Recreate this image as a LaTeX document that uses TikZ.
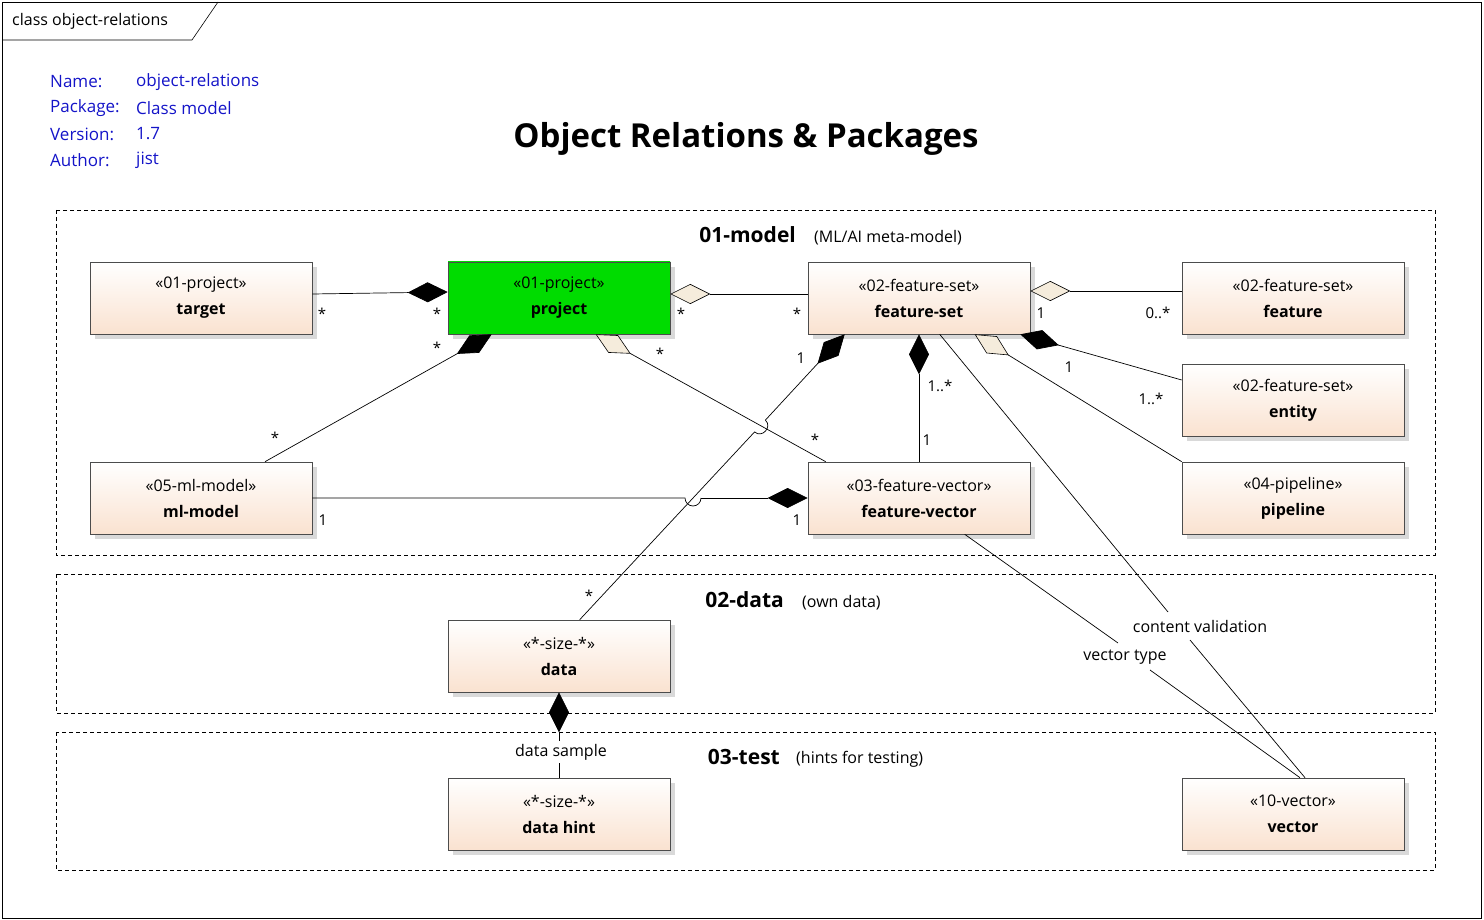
\documentclass[tikz,border=0pt]{standalone}
\usepackage{fontspec}
\setmainfont{Open Sans}
\usetikzlibrary{arrows.meta,calc}
\definecolor{peach}{RGB}{250,226,208}
\definecolor{beige}{RGB}{245,236,220}
\definecolor{hdr}{RGB}{20,20,200}
\definecolor{grn}{RGB}{0,220,0}
\tikzset{
 cls/.style={draw=black!70,line width=0.6pt,minimum width=222pt,minimum height=72pt,align=center,inner sep=0pt,
   top color=white,bottom color=peach,font=\fontsize{16}{26}\selectfont,
   preaction={fill=black!15,transform canvas={shift={(5pt,-5pt)}}}},
 pkg/.style={draw,dashed,line width=0.6pt,dash pattern=on 4pt off 3pt},
 ln/.style={line width=0.7pt},
 comp/.style={-{Diamond[length=40pt,width=20pt,fill=black]}},
 aggr/.style={-{Diamond[length=40pt,width=20pt,fill=beige,line width=0.6pt]}},
 mult/.style={font=\fontsize{15}{17}\selectfont,inner sep=0pt},
 lbl/.style={font=\fontsize{16}{18}\selectfont,inner sep=0pt},
}
\begin{document}
\begin{tikzpicture}[x=1pt,y=-1pt]
\useasboundingbox (0,0) rectangle (1484,920);
\draw[line width=0.6pt] (2,2) rectangle (1481,918);
\draw[line width=0.6pt] (2,40) -- (192,40) -- (218,2);
\node[lbl,anchor=west] (frame) at (12,21) {class object-relations};
% header
\begin{scope}[font=\fontsize{17}{19}\selectfont,color=hdr]
\node[anchor=west,inner sep=0] (h1) at (50,82) {Name:};
\node[anchor=west,inner sep=0] (h2) at (50,108) {Package:};
\node[anchor=west,inner sep=0] (h3) at (50,134) {Version:};
\node[anchor=west,inner sep=0] (h4) at (50,160) {Author:};
\node[anchor=west,inner sep=0] (v1) at (136,82) {object-relations};
\node[anchor=west,inner sep=0] (v2) at (136,108) {Class model};
\node[anchor=west,inner sep=0] (v3) at (136,134) {1.7};
\node[anchor=west,inner sep=0] (v4) at (136,160) {jist};
\end{scope}
\node[font=\fontsize{33}{36}\selectfont\bfseries] (title) at (746,139) {Object Relations \& Packages};
% packages
\draw[pkg] (56,210) rectangle (1435,555);
\draw[pkg] (56,574) rectangle (1435,713);
\draw[pkg] (56,732) rectangle (1435,870);
\node[anchor=base east,font=\fontsize{21}{24}\selectfont\bfseries,inner sep=0] (p1) at (796,243) {01-model};
\node[anchor=base west,lbl] (p1b) at (814,243) {(ML/AI meta-model)};
\node[anchor=base east,font=\fontsize{21}{24}\selectfont\bfseries,inner sep=0] (p2) at (784,607) {02-data};
\node[anchor=base west,lbl] (p2b) at (802,607) {(own data)};
\node[anchor=base east,font=\fontsize{21}{24}\selectfont\bfseries,inner sep=0] (p3) at (780,764) {03-test};
\node[anchor=base west,lbl] (p3b) at (796,763) {(hints for testing)};
% classes
\node[cls] (target) at (201,298) {«01-project»\\\textbf{target}};
\node[cls,top color=grn,bottom color=grn] (project) at (559,298) {«01-project»\\\textbf{project}};
\node[cls] (fs) at (919,298) {«02-feature-set»\\\textbf{feature-set}};
\node[cls] (feature) at (1293,298) {«02-feature-set»\\\textbf{feature}};
\node[cls] (entity) at (1293,400) {«02-feature-set»\\\textbf{entity}};
\node[cls] (ml) at (201,498) {«05-ml-model»\\\textbf{ml-model}};
\node[cls] (fv) at (919,498) {«03-feature-vector»\\\textbf{feature-vector}};
\node[cls] (pipe) at (1293,498) {«04-pipeline»\\\textbf{pipeline}};
\node[cls] (data) at (559,656) {«*-size-*»\\\textbf{data}};
\node[cls] (hint) at (559,814) {«*-size-*»\\\textbf{data hint}};
\node[cls] (vector) at (1293,814) {«10-vector»\\\textbf{vector}};
% connectors
\draw[ln,comp] ($(target.east)+(0,-4)$) -- ($(project.west)+(0,-6)$);
\draw[ln,aggr] ($(fs.west)+(0,-4)$) -- ($(project.east)+(0,-4)$);
\draw[ln,comp] ($(ml.north)+(64,0)$) -- ($(project.south west)+(44,0)$);
\draw[ln,aggr] ($(fv.north west)+(18,0)$) -- ($(project.south west)+(148,0)$);
% ml - fv with jump
\coordinate (j1) at (685,498);
\coordinate (j2) at (701,498);
\draw[ln] (ml.east) -- (j1) arc[start angle=180,end angle=0,radius=8];
\draw[ln,comp] (j2) -- (fv.west);
% fs - data with jump
\coordinate (k1) at (765.4,420.1);
\coordinate (k2) at (754.6,431.9);
\draw[ln] ($(data.north west)+(132,0)$) -- (k2) .. controls (761.9,438.7) and (772.7,426.9) .. (k1);
\draw[ln,comp] (k1) -- ($(fs.south west)+(37,0)$);
\draw[ln,comp] (fv.north) -- (fs.south);
\draw[ln,aggr] ($(feature.west)+(0,-7)$) -- ($(fs.east)+(0,-7)$);
\draw[ln,comp] ($(entity.west)+(0,-20)$) -- ($(fs.south east)+(-10,0)$);
\draw[ln,aggr] (pipe.north west) -- ($(fs.south west)+(167,0)$);
\draw[ln] ($(fs.south west)+(132,0)$) -- (1168,612);
\draw[ln] (1190,640) -- ($(vector.north)+(12,0)$);
\node[lbl] (cv) at (1200,626) {content validation};
\draw[ln] ($(fv.south west)+(157,0)$) -- (1118,643);
\draw[ln] (1150,670) -- ($(vector.north)+(7,0)$);
\node[lbl] (vt) at (1125,657) {vector type};
\node[lbl] (ds) at (561,752) {data sample};
\draw[ln] (hint.north) -- ($(ds.south)+(-2,3)$);
\draw[ln,comp] ($(ds.north)+(-2,-3)$) -- (data.south);
% multiplicities
\node[mult] at (322,314) {*};
\node[mult] at (437,314) {*};
\node[mult] at (681,314) {*};
\node[mult] at (797,314) {*};
\node[mult] at (275,438) {*};
\node[mult] at (437,348) {*};
\node[mult] at (660,354) {*};
\node[mult] at (815,440) {*};
\node[mult] at (323,520) {1};
\node[mult] at (797,520) {1};
\node[mult] at (801,358) {1};
\node[mult] at (589,596) {*};
\node[mult] at (940,386) {1..*};
\node[mult] at (927,440) {1};
\node[mult] at (1041,313) {1};
\node[mult] at (1158,313) {0..*};
\node[mult] at (1069,367) {1};
\node[mult] at (1151,399) {1..*};
\end{tikzpicture}
\end{document}
